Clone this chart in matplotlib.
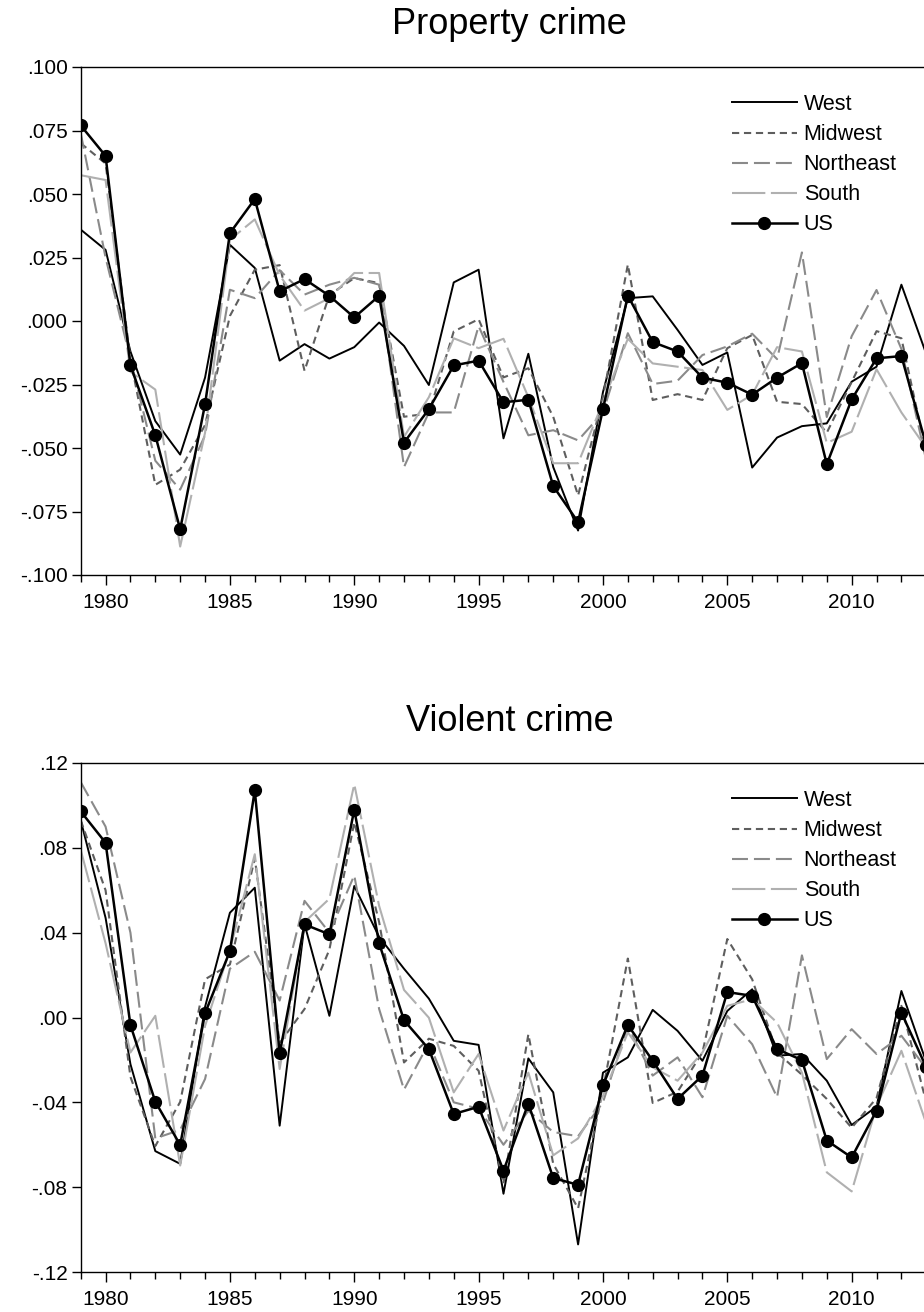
import matplotlib
matplotlib.use("Agg")
import matplotlib.pyplot as plt
from matplotlib.ticker import FixedLocator

plt.rcParams['font.family'] = ['Liberation Sans', 'DejaVu Sans']
plt.rcParams['lines.scale_dashes'] = False

years = list(range(1979, 2014))

prop_west = [0.036, 0.028, -0.012, -0.0394, -0.0526, -0.0223, 0.030, 0.0209, -0.0156, -0.0091,
             -0.0148, -0.0103, -0.0006, -0.0098, -0.0252, 0.0152, 0.0202, -0.0462, -0.0129, -0.0575,
             -0.0825, -0.028, 0.009, 0.0097, -0.0035, -0.0173, -0.0124, -0.0577, -0.0459, -0.0414,
             -0.0403, -0.0239, -0.018, 0.0143, -0.013]
prop_midwest = [0.070, 0.062, -0.015, -0.0645, -0.0585, -0.041, 0.002, 0.0202, 0.022, -0.0196,
                0.0103, 0.0169, 0.0149, -0.0377, -0.0364, -0.0041, 0.0007, -0.0222, -0.0186, -0.0377,
                -0.0687, -0.030, 0.0222, -0.0311, -0.0288, -0.0311, -0.0107, -0.0055, -0.0318, -0.0327,
                -0.044, -0.024, -0.004, -0.0068, -0.052]
prop_northeast = [0.074, 0.025, -0.015, -0.055, -0.0664, -0.045, 0.0123, 0.009, 0.020, 0.0104,
                  0.0143, 0.017, 0.0143, -0.0575, -0.036, -0.036, -0.002, -0.024, -0.045, -0.043,
                  -0.047, -0.036, -0.0048, -0.0248, -0.0235, -0.0134, -0.010, -0.005, -0.015, 0.027,
                  -0.0378, -0.006, 0.0122, -0.011, -0.055]
prop_south = [0.0574, 0.0555, -0.020, -0.027, -0.0888, -0.044, 0.032, 0.040, 0.018, 0.0041,
              0.009, 0.0189, 0.0189, -0.0456, -0.030, -0.0068, -0.0107, -0.007, -0.030, -0.056,
              -0.056, -0.032, -0.007, -0.0167, -0.018, -0.0193, -0.035, -0.029, -0.0103, -0.012,
              -0.048, -0.0436, -0.019, -0.036, -0.050]
prop_us = [0.077, 0.065, -0.0175, -0.045, -0.082, -0.0328, 0.0346, 0.048, 0.0117, 0.0165,
           0.0099, 0.0014, 0.0099, -0.0479, -0.0347, -0.0175, -0.0156, -0.032, -0.031, -0.065,
           -0.0792, -0.0347, 0.010, -0.0083, -0.012, -0.0223, -0.0243, -0.029, -0.0223, -0.0166,
           -0.0564, -0.0309, -0.0147, -0.0138, -0.049]

viol_west = [0.093, 0.047, -0.022, -0.063, -0.069, 0.005, 0.0494, 0.0612, -0.051, 0.044,
             0.0008, 0.062, 0.038, 0.023, 0.0089, -0.011, -0.0129, -0.0831, -0.0193, -0.0353,
             -0.107, -0.026, -0.0188, 0.0036, -0.0063, -0.0204, 0.0031, 0.0133, -0.018, -0.0172,
             -0.0298, -0.0507, -0.042, 0.0125, -0.021]
viol_midwest = [0.093, 0.060, -0.028, -0.0606, -0.0398, 0.018, 0.025, 0.075, -0.012, 0.004,
                0.032, 0.092, 0.045, -0.0212, -0.010, -0.0134, -0.0251, -0.0784, -0.0079, -0.069,
                -0.090, -0.034, 0.0278, -0.0403, -0.035, -0.0165, 0.037, 0.018, -0.0165, -0.027,
                -0.0384, -0.052, -0.038, 0.0055, -0.040]
viol_northeast = [0.111, 0.090, 0.040, -0.057, -0.053, -0.029, 0.023, 0.031, 0.008, 0.055,
                  0.040, 0.067, 0.004, -0.034, -0.012, -0.040, -0.043, -0.060, -0.044, -0.054,
                  -0.056, -0.040, -0.004, -0.0274, -0.0188, -0.0376, 0.0008, -0.0126, -0.0376, 0.0293,
                  -0.0196, -0.0055, -0.0172, -0.0086, -0.024]
viol_south = [0.079, 0.035, -0.0165, 0.0008, -0.0698, -0.004, 0.032, 0.077, -0.0243, 0.045,
              0.056, 0.110, 0.0526, 0.013, -0.0001, -0.0353, -0.0172, -0.0533, -0.026, -0.065,
              -0.057, -0.037, -0.007, -0.0235, -0.0298, -0.0165, 0.0055, 0.0086, -0.0024, -0.026,
              -0.073, -0.082, -0.042, -0.0157, -0.050]
viol_us = [0.0972, 0.0824, -0.0036, -0.0397, -0.0601, 0.002, 0.0313, 0.1071, -0.0169, 0.0439,
           0.0392, 0.098, 0.035, -0.0013, -0.0149, -0.0455, -0.0421, -0.0722, -0.0406, -0.0757,
           -0.0789, -0.032, -0.0035, -0.0204, -0.0384, -0.0274, 0.012, 0.0102, -0.0149, -0.0201,
           -0.058, -0.066, -0.0439, 0.0023, -0.0235]

series_names = ["West", "Midwest", "Northeast", "South", "US"]

prop_ticks = [0.100, 0.075, 0.050, 0.025, 0.0, -0.025, -0.050, -0.075, -0.100]
prop_ticklabels = [".100", ".075", ".050", ".025", ".000", "-.025", "-.050", "-.075", "-.100"]
viol_ticks = [0.12, 0.08, 0.04, 0.0, -0.04, -0.08, -0.12]
viol_ticklabels = [".12", ".08", ".04", ".00", "-.04", "-.08", "-.12"]
x_major = [1980, 1985, 1990, 1995, 2000, 2005, 2010]

W, H = 924, 1312
fig = plt.figure(figsize=(W / 100, H / 100), dpi=100)

left_px, right_px = 80.7, 938.7
ax1 = fig.add_axes([left_px / W, 1 - 575 / H, (right_px - left_px) / W, 508 / H])
ax2 = fig.add_axes([left_px / W, 1 - 1272 / H, (right_px - left_px) / W, 509 / H])

styles = {
    "West": dict(color="black", lw=1.4, ls="-"),
    "Midwest": dict(color="#5e5e5e", lw=1.5, dashes=(5.2, 3.4)),
    "Northeast": dict(color="#8a8a8a", lw=1.5, dashes=(11.5, 4.3)),
    "South": dict(color="#b0b0b0", lw=1.5, dashes=(24, 4)),
    "US": dict(color="black", lw=1.8, ls="-", marker="o", markersize=8.5),
}


def draw(ax, data, ticks, ticklabels, ylim, title, title_base_px, legend_top_px):
    for name, vals in zip(series_names, data):
        ax.plot(years, vals, label=name, **styles[name])
    ax.set_xlim(1979, 2013.5)
    ax.set_ylim(*ylim)
    ax.yaxis.set_major_locator(FixedLocator(ticks))
    ax.set_yticklabels(ticklabels)
    ax.xaxis.set_major_locator(FixedLocator(x_major))
    ax.xaxis.set_minor_locator(FixedLocator([y for y in years if y not in x_major]))
    ax.set_xticklabels([str(x) for x in x_major])
    ax.tick_params(axis="x", which="major", direction="out", length=7.5, width=1,
                   labelsize=15, pad=5.5)
    ax.tick_params(axis="x", which="minor", direction="out", length=5, width=1)
    ax.tick_params(axis="y", which="major", direction="out", length=6.5, width=1,
                   labelsize=15, pad=3)
    for s in ["left", "top", "bottom", "right"]:
        ax.spines[s].set_linewidth(1.0)
        ax.spines[s].set_color("black")
    fig.text((left_px + right_px) / 2 / W, 1 - title_base_px / H, title,
             ha="center", va="baseline", fontsize=26)
    ax.legend(loc="upper left", bbox_to_anchor=(732 / W, 1 - legend_top_px / H),
              bbox_transform=fig.transFigure, frameon=False, borderpad=0,
              borderaxespad=0, handlelength=3.0, handletextpad=0.33,
              labelspacing=0.42, fontsize=15.5, numpoints=1)


draw(ax1, [prop_west, prop_midwest, prop_northeast, prop_south, prop_us],
     prop_ticks, prop_ticklabels, (-0.100, 0.100), "Property crime", 34, 94)
draw(ax2, [viol_west, viol_midwest, viol_northeast, viol_south, viol_us],
     viol_ticks, viol_ticklabels, (-0.12, 0.12), "Violent crime", 731, 790)

fig.savefig("out.png", dpi=100)
